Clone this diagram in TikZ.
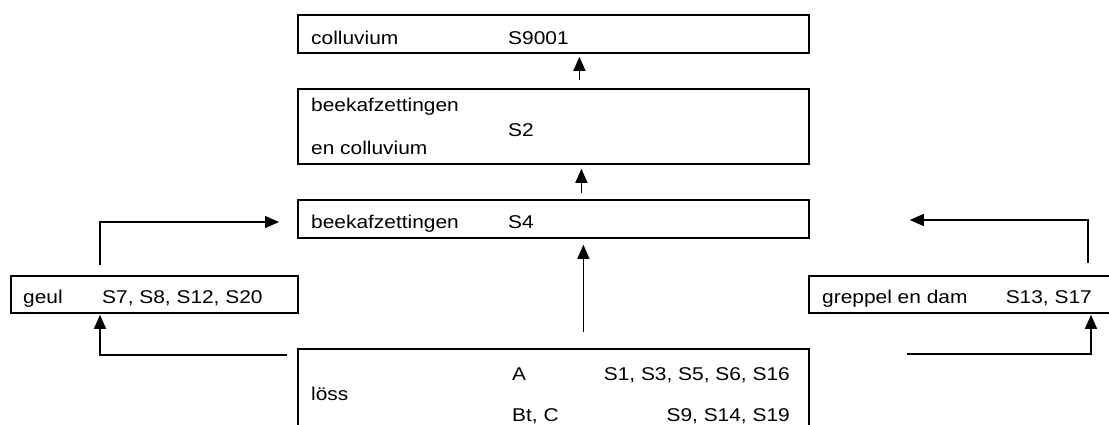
\documentclass[tikz,border=0pt]{standalone}
\usepackage{fontspec}
\setmainfont{Liberation Sans}[FakeStretch=1.13]
\usetikzlibrary{arrows.meta}
\begin{document}
\begin{tikzpicture}[x=1pt,y=-1pt,
  box/.style={draw,line width=1.8pt,rectangle,inner sep=0pt,anchor=north west},
  txt/.style={font=\fontsize{18.5}{21}\selectfont,inner sep=0pt,anchor=base west},
  txtr/.style={txt,anchor=base east},
  arr/.style={-{Triangle[length=14pt,width=12pt]},line width=1.2pt},
  vline/.style={line width=2.2pt},
  hline/.style={line width=1pt}]
\useasboundingbox (0,0) rectangle (1109,425);
\clip (0,0) rectangle (1109,425);
% boxes
\node[box,minimum width=511pt,minimum height=38pt] (b1) at (297,14) {};
\node[box,minimum width=511pt,minimum height=75pt] (b2) at (297,88) {};
\node[box,minimum width=511pt,minimum height=38pt] (b3) at (297,199) {};
\node[box,minimum width=511pt,minimum height=100pt] (loss) at (297,348) {};
\node[box,minimum width=287pt,minimum height=37pt] (geul) at (10,275) {};
\node[box,minimum width=330pt,minimum height=37pt] (grep) at (808,275) {};
% texts
\node[txt] (t1a) at (311,45) {colluvium};
\node[txt] (t1b) at (508,45) {S9001};
\node[txt] (t2a) at (311,112) {beekafzettingen};
\node[txt] (t2b) at (311,155) {en colluvium};
\node[txt] (t2c) at (508,137) {S2};
\node[txt] (t3a) at (311,229) {beekafzettingen};
\node[txt] (t3b) at (508,229) {S4};
\node[txt] (tg1) at (23,303) {geul};
\node[txt] (tg2) at (102,303) {S7, S8, S12, S20};
\node[txt] (tr1) at (822,303) {greppel en dam};
\node[txtr] (tr2) at (1092,303) {S13, S17};
\node[txt] (tl1) at (311,400) {löss};
\node[txt] (tl2) at (512,380) {A};
\node[txtr] (tl3) at (790,380) {S1, S3, S5, S6, S16};
\node[txt] (tl4) at (512,421) {Bt, C};
\node[txtr] (tl5) at (790,421) {S9, S14, S19};
% vertical arrows
\draw[arr,shorten <=8pt,shorten >=3pt] ([xshift=26pt]b2.north) -- ([xshift=26pt]b1.south);
\draw[arr,shorten <=6pt,shorten >=4pt] ([xshift=28pt]b3.north) -- ([xshift=28pt]b2.south);
\draw[arr,shorten <=16pt,shorten >=6pt] ([xshift=30pt]loss.north) -- ([xshift=30pt]b3.south);
% side connectors
\coordinate (gc1) at (100,222);
\coordinate (gc2) at (1088,220);
\coordinate (gc3) at (100,355);
\coordinate (gc4) at (1091,354);
\draw[vline,shorten <=10pt] (gc1 |- geul.north) -- (gc1);
\draw[arr,shorten >=18pt] ([xshift=-1pt]gc1) -- (gc1 -| b3.west);
\draw[vline,shorten <=12pt] (gc2 |- grep.north) -- (gc2);
\draw[arr,shorten >=100pt] ([xshift=1pt]gc2) -- (gc2 -| b3.east);
\draw[arr,shorten <=10pt,shorten >=1pt] (gc3 -| loss.west) -- (gc3) -- (gc3 |- geul.south);
\draw[arr,shorten <=97pt,shorten >=1pt] (gc4 -| loss.east) -- (gc4) -- (gc4 |- grep.south);
\end{tikzpicture}
\end{document}
